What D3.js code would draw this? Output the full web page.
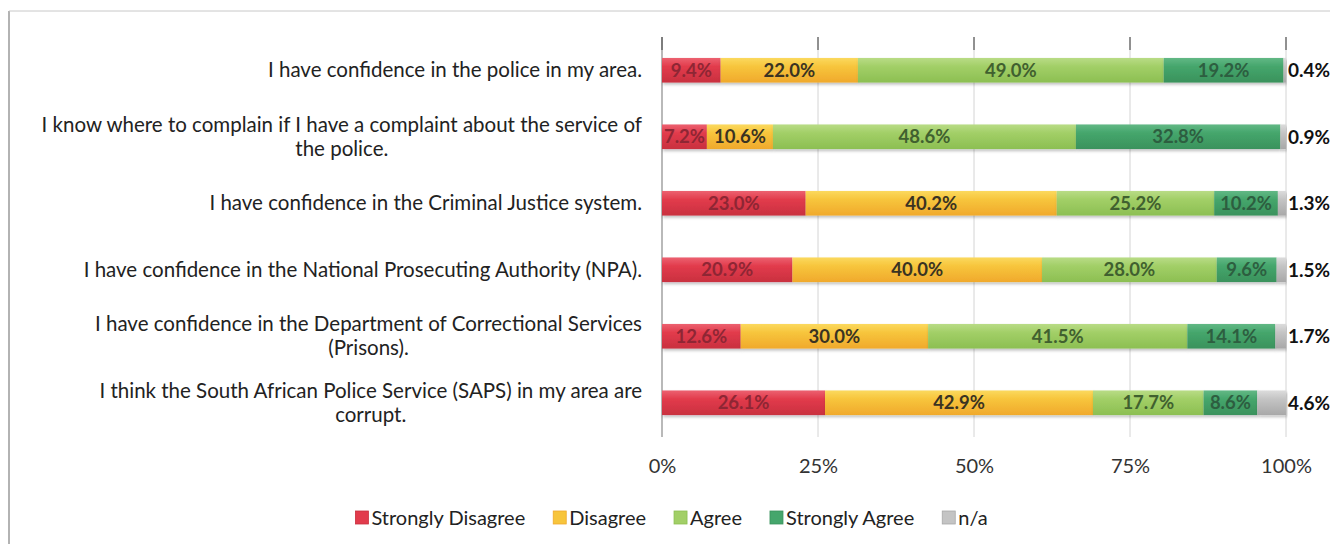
<!DOCTYPE html>
<html>
<head>
<meta charset="utf-8">
<script src="https://cdn.jsdelivr.net/npm/d3@7"></script>
<style>
  html, body { margin: 0; padding: 0; background: #fff; }
  svg { display: block; }
  text { font-family: Lato, "Open Sans", sans-serif; }
</style>
</head>
<body>
<svg id="chart" width="1330" height="544"></svg>
<script>
// ---- data ----
const categories = [
  "I have confidence in the police in my area.",
  "I know where to complain if I have a complaint about the service of\nthe police.",
  "I have confidence in the Criminal Justice system.",
  "I have confidence in the National Prosecuting Authority (NPA).",
  "I have confidence in the Department of Correctional Services\n(Prisons).",
  "I think the South African Police Service (SAPS) in my area are\ncorrupt."
];
const seriesNames = ["Strongly Disagree", "Disagree", "Agree", "Strongly Agree", "n/a"];
const stronglyDisagree = [9.4, 7.2, 23.0, 20.9, 12.6, 26.1];
const disagree         = [22.0, 10.6, 40.2, 40.0, 30.0, 42.9];
const agree            = [49.0, 48.6, 25.2, 28.0, 41.5, 17.7];
const stronglyAgree    = [19.2, 32.8, 10.2, 9.6, 14.1, 8.6];
const notApplicable    = [0.4, 0.9, 1.3, 1.5, 1.7, 4.6];
const tickValues = [0, 0.25, 0.5, 0.75, 1];
const tickLabels = ["0%", "25%", "50%", "75%", "100%"];

const seriesValues = [stronglyDisagree, disagree, agree, stronglyAgree, notApplicable];
const colors      = ["#e23b4c", "#f7c53c", "#a2cf67", "#45a66c", "#c4c4c4"];
const colorsTop   = ["#ec6170", "#fbd95e", "#b9dc86", "#62b885", "#dcdcdc"];
const colorsBot   = ["#c9303f", "#f0a92c", "#8cbf52", "#3a925c", "#a8a8a8"];
const labelColors = ["#8e2634", "#3a3322", "#40602f", "#2d5e40", "#111111"];

// ---- build table ----
const rows = categories.map((c, i) => {
  const vals = seriesValues.map(s => s[i]);
  const total = d3.sum(vals);
  const r = { cat: c, total };
  seriesNames.forEach((n, k) => { r[n] = vals[k] / total; r["raw_" + n] = vals[k]; });
  return r;
});
const stacked = d3.stack().keys(seriesNames)(rows);

const svg = d3.select("#chart");
const defs = svg.append("defs");
seriesNames.forEach((n, k) => {
  const g = defs.append("linearGradient").attr("id", "grad" + k)
    .attr("x1", 0).attr("y1", 0).attr("x2", 0).attr("y2", 1);
  g.append("stop").attr("offset", "0%").attr("stop-color", colorsTop[k]);
  g.append("stop").attr("offset", "35%").attr("stop-color", colors[k]);
  g.append("stop").attr("offset", "100%").attr("stop-color", colorsBot[k]);
});
const shadow = defs.append("filter").attr("id", "shadow")
  .attr("x", "-5%").attr("y", "-20%").attr("width", "110%").attr("height", "160%");
shadow.append("feDropShadow").attr("dx", 1).attr("dy", 2).attr("stdDeviation", 1.5)
  .attr("flood-color", "#000").attr("flood-opacity", 0.25);
const clip = defs.append("clipPath").attr("id", "plotclip");

// frame (scan border)
svg.append("line").attr("x1", 9).attr("x2", 9).attr("y1", 11).attr("y2", 544)
  .attr("stroke", "#9a9a9a").attr("stroke-width", 1.5);
svg.append("line").attr("x1", 9).attr("x2", 1330).attr("y1", 11).attr("y2", 11)
  .attr("stroke", "#c8c8c8").attr("stroke-width", 1);

// ---- scales ----
const x = d3.scaleLinear().domain([0, 1]).range([662, 1286]);
const y = d3.scaleBand().domain(categories).range([37, 436])
  .paddingInner(0.63).paddingOuter(0.315);
clip.append("rect").attr("x", x(0)).attr("y", 0).attr("width", x(1) - x(0) + 60).attr("height", 544);

// gridlines
const grid = svg.append("g");
grid.selectAll("line.grid").data(tickValues).join("line")
  .attr("class", "grid")
  .attr("x1", d => x(d)).attr("x2", d => x(d))
  .attr("y1", 37).attr("y2", 437)
  .attr("stroke", d => d === 0 ? "#8a8a8a" : "#d4d4d4")
  .attr("stroke-width", d => d === 0 ? 1.2 : 1);
grid.selectAll("line.tick").data(tickValues).join("line")
  .attr("class", "tick")
  .attr("x1", d => x(d)).attr("x2", d => x(d))
  .attr("y1", 37).attr("y2", 50)
  .attr("stroke", "#555").attr("stroke-width", 1.2);

// x axis labels
const xAxis = d3.axisBottom(x).tickValues(tickValues)
  .tickFormat((d, i) => tickLabels[i]).tickSize(0).tickPadding(0);
const xg = svg.append("g").attr("transform", "translate(0,459)").call(xAxis);
xg.select(".domain").remove();
xg.selectAll("text").attr("font-family", "Lato, sans-serif")
  .attr("font-size", 20).attr("fill", "#333").attr("dy", "0.71em");

// bars
const layers = svg.append("g").selectAll("g.layer").data(stacked).join("g")
  .attr("class", "layer")
  .attr("fill", (d, k) => `url(#grad${k})`);
layers.selectAll("rect").data(d => d.map(v => ({ v, key: d.key }))).join("rect")
  .attr("x", d => x(d.v[0]))
  .attr("width", d => Math.max(0, x(d.v[1]) - x(d.v[0])))
  .attr("y", d => y(d.v.data.cat))
  .attr("height", y.bandwidth())
  .attr("filter", "url(#shadow)");

// data labels
const lab = svg.append("g").attr("clip-path", "url(#plotclip)");
stacked.forEach((layer, k) => {
  lab.selectAll(null).data(layer).join("text")
    .attr("x", d => k === 4 ? x(1) + 2 : (x(d[0]) + x(d[1])) / 2)
    .attr("y", d => y(d.data.cat) + y.bandwidth() / 2)
    .attr("dy", "0.36em")
    .attr("text-anchor", k === 4 ? "start" : "middle")
    .attr("font-size", k === 4 ? 19 : 18.5)
    .attr("font-weight", "bold")
    .attr("fill", labelColors[k])
    .text(d => d.data["raw_" + layer.key].toFixed(1) + "%");
});

// category labels
const catG = svg.append("g");
categories.forEach(c => {
  const lines = c.split("\n");
  const cy = y(c) + y.bandwidth() / 2;
  const lh = 24;
  const t = catG.append("text")
    .attr("font-size", 20.5).attr("fill", "#222")
    .attr("text-anchor", "middle");
  lines.forEach((ln, i) => {
    t.append("tspan").text(ln)
      .attr("y", cy + (i - (lines.length - 1) / 2) * lh)
      .attr("dy", "0.35em");
  });
  const tsp = t.selectAll("tspan").nodes();
  const wmax = d3.max(tsp.map(n => n.getComputedTextLength()));
  t.selectAll("tspan").attr("x", 642 - wmax / 2);
});

// legend
const legendItems = seriesNames.map((n, k) => ({ n, k }));
const leg = svg.append("g").attr("transform", "translate(0,518)");
const items = leg.selectAll("g").data(legendItems).join("g");
items.append("rect").attr("x", 0).attr("y", -7).attr("width", 13).attr("height", 13)
  .attr("fill", d => colors[d.k]).attr("stroke", d => colorsBot[d.k]).attr("stroke-width", 0.8);
items.append("text").attr("x", 16).attr("dy", "0.35em")
  .attr("font-size", 20).attr("fill", "#222").text(d => d.n);
const gap = 28;
const widthsL = items.nodes().map(n => n.getBBox().width);
const totalL = d3.sum(widthsL) + gap * (widthsL.length - 1);
const startL = (353 + 990) / 2 - totalL / 2;
items.attr("transform", (d, i) => {
  const off = d3.sum(widthsL.slice(0, i)) + gap * i;
  return `translate(${startL + off},0)`;
});
</script>
</body>
</html>
